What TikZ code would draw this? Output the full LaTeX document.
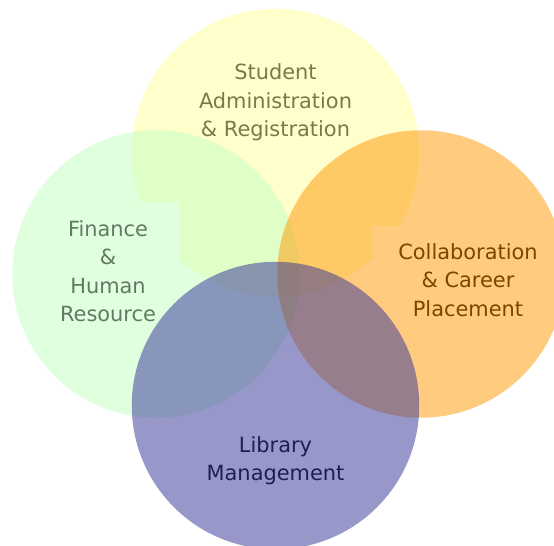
\documentclass[tikz,border=0pt]{standalone}
\usepackage{fontspec}
\setmainfont{DejaVu Sans}
\usepackage{tikz}
\definecolor{studentfill}{RGB}{255,255,153}
\definecolor{financefill}{RGB}{192,255,192}
\definecolor{careerfill}{RGB}{255,151,0}
\definecolor{libraryfill}{RGB}{55,55,153}
\definecolor{studenttext}{RGB}{122,122,72}
\definecolor{financetext}{RGB}{100,120,100}
\definecolor{careertext}{RGB}{120,72,0}
\definecolor{librarytext}{RGB}{30,30,80}
\tikzstyle{set} = [circle, minimum size=5.75cm, inner sep=0pt, fill opacity=0.5]
\tikzstyle{caption} = [align=center, font=\fontsize{11.9}{16.2}\selectfont]

\begin{document}
\begin{tikzpicture}[x=0.02cm, y=-0.02cm]
		\useasboundingbox (0,0) rectangle (554,546);
		\clip (0,0) rectangle (554,546);
		
		\begin{scope}
			\clip (100,0) -- (460,0) -- (460,226) -- (372,226) -- (372,263) -- (322,313) -- (230,313) -- (180,263) -- (180,202) -- (100,202) -- cycle;
			\node (StudentSet) [set, fill=studentfill] at (275.5,152.5) {};
		\end{scope}
		\node (FinanceSet) [set, fill=financefill] at (156,274) {};
		\node (CareerSet) [set, fill=careerfill] at (421,274) {};
		\node (LibrarySet) [set, fill=libraryfill, fill opacity=0.52] at (275.5,405.5) {};
		
		\node (Student) [caption, text=studenttext] at ([yshift=1.0cm]StudentSet.center) {Student\\Administration\\\& Registration};
		\node (Finance) [caption, text=financetext] at ([xshift=-0.96cm, yshift=0.06cm]FinanceSet.center) {Finance\\\&\\Human\\Resource};
		\node (Career) [caption, text=careertext] at ([xshift=0.94cm, yshift=-0.12cm]CareerSet.center) {Collaboration\\\& Career\\Placement};
		\node (Library) [caption, text=librarytext] at ([yshift=-1.1cm]LibrarySet.center) {Library\\Management};
\end{tikzpicture}
\end{document}
